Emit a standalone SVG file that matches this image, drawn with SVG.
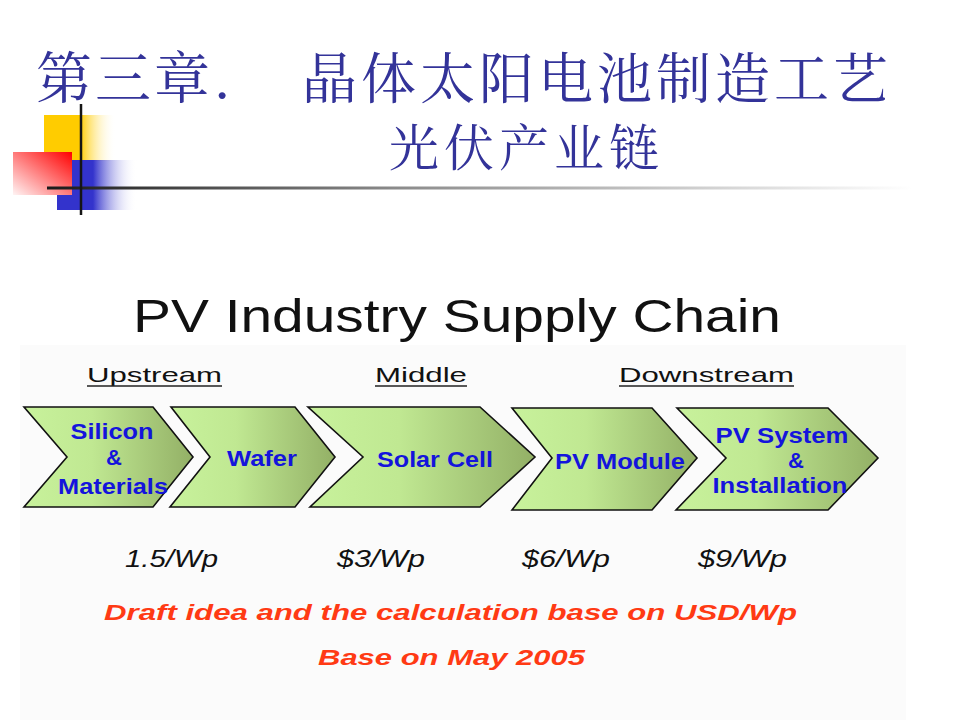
<svg xmlns="http://www.w3.org/2000/svg" width="960" height="720" viewBox="0 0 960 720">
  <defs>
    <linearGradient id="chev" x1="0" y1="0" x2="1" y2="0">
      <stop offset="0" stop-color="#c8f29c"/>
      <stop offset="0.4" stop-color="#c0e892"/>
      <stop offset="1" stop-color="#93b066"/>
    </linearGradient>
    <linearGradient id="yel" x1="0" y1="0" x2="1" y2="0">
      <stop offset="0" stop-color="#ffcc00"/>
      <stop offset="0.5" stop-color="#ffcc00"/>
      <stop offset="1" stop-color="#ffffff" stop-opacity="0"/>
    </linearGradient>
    <linearGradient id="blu" x1="0" y1="0" x2="1" y2="0">
      <stop offset="0" stop-color="#3333cc"/>
      <stop offset="0.45" stop-color="#3333cc"/>
      <stop offset="1" stop-color="#ffffff" stop-opacity="0"/>
    </linearGradient>
    <linearGradient id="red" x1="1" y1="0" x2="0" y2="1">
      <stop offset="0" stop-color="#ff0000"/>
      <stop offset="1" stop-color="#fff4f4"/>
    </linearGradient>
    <linearGradient id="hline" x1="0" y1="0" x2="1" y2="0">
      <stop offset="0" stop-color="#1a1a1a"/>
      <stop offset="0.4" stop-color="#8a8a8a"/>
      <stop offset="1" stop-color="#ffffff"/>
    </linearGradient>
    <style>
      .cjk { font-family: "Noto Serif CJK SC", "Noto Sans CJK SC", serif; fill: #333399; }
      .chev { fill: url(#chev); stroke: #111; stroke-width: 1.6; stroke-linejoin: miter; }
      .lbl { font-family: "Liberation Sans", Arial, sans-serif; font-weight: bold; font-size: 22px; fill: #1414dc; text-anchor: middle; }
      .head { font-family: "Liberation Sans", Arial, sans-serif; font-size: 21px; fill: #111; }
      .uline { stroke: #222; stroke-width: 1.5; }
      .price { font-family: "Liberation Sans", Arial, sans-serif; font-style: italic; font-size: 23px; fill: #111; }
      .note { font-family: "Liberation Sans", Arial, sans-serif; font-style: italic; font-weight: bold; font-size: 22px; fill: #ff3a14; }
    </style>
  </defs>

  <rect width="960" height="720" fill="#ffffff"/>

  <g id="decoration">
    <rect x="44" y="115" width="72" height="46" fill="url(#yel)"/>
    <rect x="57" y="160" width="80" height="50" fill="url(#blu)"/>
    <rect x="13" y="152" width="59" height="43" fill="url(#red)"/>
    <rect x="47" y="186.5" width="865" height="3" fill="url(#hline)"/>
    <line x1="81" y1="104" x2="81" y2="215" stroke="#151515" stroke-width="2.5"/>
  </g>

  <g id="title">
    <text class="cjk" x="36" y="98" font-size="56" letter-spacing="3">第三章.</text>
    <text class="cjk" x="302" y="98" font-size="55" letter-spacing="4">晶体太阳电池制造工艺</text>
    <text class="cjk" x="389" y="166" font-size="50" letter-spacing="5">光伏产业链</text>
  </g>

  <rect id="panel" x="20" y="345" width="886" height="375" fill="#fbfbfb"/>

  <g id="chart-title">
    <text x="133" y="332" font-family="Liberation Sans, Arial, sans-serif" font-size="46" fill="#111" textLength="648" lengthAdjust="spacingAndGlyphs">PV Industry Supply Chain</text>
  </g>

  <g id="headings">
    <text class="head" x="87" y="382" textLength="135" lengthAdjust="spacingAndGlyphs">Upstream</text>
    <line class="uline" x1="87" y1="386" x2="222" y2="386"/>
    <text class="head" x="375" y="382" textLength="92" lengthAdjust="spacingAndGlyphs">Middle</text>
    <line class="uline" x1="375" y1="386" x2="467" y2="386"/>
    <text class="head" x="619" y="382" textLength="175" lengthAdjust="spacingAndGlyphs">Downstream</text>
    <line class="uline" x1="619" y1="386" x2="794" y2="386"/>
  </g>

  <g id="node-silicon">
    <polygon class="chev" points="24,407 153,407 193,457 153,507 24,507 67,457"/>
    <text class="lbl" x="112" y="439" textLength="83" lengthAdjust="spacingAndGlyphs">Silicon</text>
    <text class="lbl" x="114" y="465">&amp;</text>
    <text class="lbl" x="113" y="494" textLength="110" lengthAdjust="spacingAndGlyphs">Materials</text>
  </g>

  <g id="node-wafer">
    <polygon class="chev" points="171,407 295,407 335,457 295,507 170,507 210,457"/>
    <text class="lbl" x="262" y="466" textLength="70" lengthAdjust="spacingAndGlyphs">Wafer</text>
  </g>

  <g id="node-solarcell">
    <polygon class="chev" points="308,407 480,407 535,457 480,507 310,507 363,457"/>
    <text class="lbl" x="435" y="467" textLength="116" lengthAdjust="spacingAndGlyphs">Solar Cell</text>
  </g>

  <g id="node-pvmodule">
    <polygon class="chev" points="512,408 652,408 697,458 652,510 512,510 552,458"/>
    <text class="lbl" x="620" y="469" textLength="130" lengthAdjust="spacingAndGlyphs">PV Module</text>
  </g>

  <g id="node-pvsystem">
    <polygon class="chev" points="677,408 828,408 878,458 828,510 676,510 726,458"/>
    <text class="lbl" x="782" y="443" textLength="133" lengthAdjust="spacingAndGlyphs">PV System</text>
    <text class="lbl" x="796" y="468">&amp;</text>
    <text class="lbl" x="780" y="493" textLength="135" lengthAdjust="spacingAndGlyphs">Installation</text>
  </g>

  <g id="connectors"/>

  <g id="prices">
    <text class="price" x="125" y="567" textLength="93" lengthAdjust="spacingAndGlyphs">1.5/Wp</text>
    <text class="price" x="337" y="567" textLength="88" lengthAdjust="spacingAndGlyphs">$3/Wp</text>
    <text class="price" x="522" y="567" textLength="88" lengthAdjust="spacingAndGlyphs">$6/Wp</text>
    <text class="price" x="698" y="567" textLength="89" lengthAdjust="spacingAndGlyphs">$9/Wp</text>
  </g>

  <g id="notes">
    <text class="note" x="104" y="620" textLength="693" lengthAdjust="spacingAndGlyphs">Draft idea and the calculation base on USD/Wp</text>
    <text class="note" x="318" y="665" textLength="267" lengthAdjust="spacingAndGlyphs">Base on May 2005</text>
  </g>
</svg>
